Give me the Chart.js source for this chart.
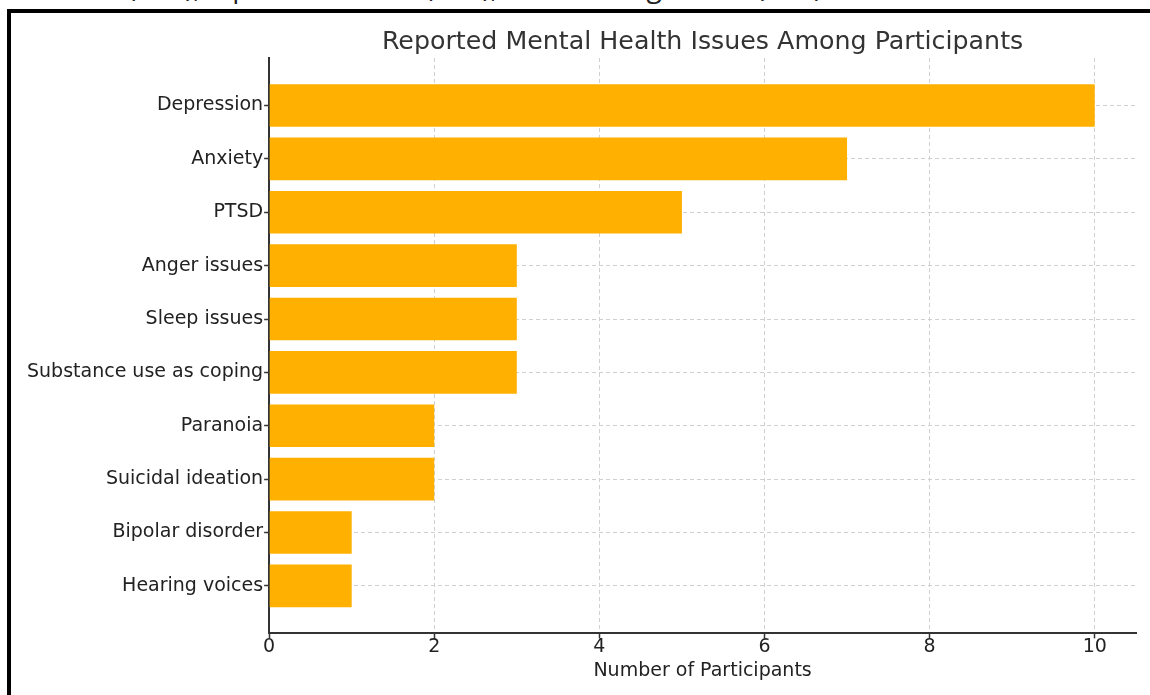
<!DOCTYPE html>
<html>
<head>
<meta charset="utf-8">
<script src="https://cdn.jsdelivr.net/npm/chart.js@4"></script>
<style>
  body { margin: 0; background: #fff; overflow: hidden; }
  #wrap { position: relative; width: 1150px; height: 695px; overflow: hidden; }
  #cut { position: absolute; left: 14px; top: -28px; font: 28px/28px "Open Sans", sans-serif; color: #222; white-space: nowrap; }
  #frame { position: absolute; left: 7px; top: 9px; width: 1200px; height: 800px; border-left: 4px solid #000; border-top: 4px solid #000; }
  canvas { position: absolute; left: 0; top: 0; }
</style>
</head>
<body>
<div id="wrap">
  <div id="cut">ideation (n=2), bipolar disorder (n=1), and hearing voices (n=1).</div>
  <div id="frame"></div>
  <canvas id="myChart" width="1150" height="695"></canvas>
</div>
<script>
// data
const issues = ['Depression', 'Anxiety', 'PTSD', 'Anger issues', 'Sleep issues',
  'Substance use as coping', 'Paranoia', 'Suicidal ideation', 'Bipolar disorder', 'Hearing voices'];
const participants = [10, 7, 5, 3, 3, 3, 2, 2, 1, 1];
const xTicks = [0, 2, 4, 6, 8, 10];

const chartTitle = 'Reported Mental Health Issues Among Participants';
const font = '"DejaVu Sans", sans-serif';

// title centred over the plot area, like matplotlib does
const titlePlugin = {
  id: 'plotTitle',
  afterDraw(chart) {
    const { ctx, chartArea } = chart;
    ctx.save();
    ctx.font = '25.3px ' + font;
    ctx.fillStyle = '#333';
    ctx.textAlign = 'center';
    ctx.textBaseline = 'alphabetic';
    ctx.fillText(chartTitle, (chartArea.left + chartArea.right) / 2, 49);
    ctx.restore();
  }
};

const ctx = document.getElementById('myChart').getContext('2d');
const chart = new Chart(ctx, {
  type: 'bar',
  data: {
    datasets: [{
      data: issues.map((name, i) => ({ x: participants[i], y: i })),
      backgroundColor: '#ffb000',
      borderWidth: 0,
      categoryPercentage: 1,
      barPercentage: 0.8
    }]
  },
  options: {
    indexAxis: 'y',
    responsive: false,
    animation: false,
    layout: { padding: { left: 26, right: 14, top: 58, bottom: 13 } },
    plugins: { legend: { display: false }, tooltip: { enabled: false } },
    scales: {
      x: {
        type: 'linear',
        min: 0,
        max: 10.5,
        afterBuildTicks: axis => { axis.ticks = xTicks.map(v => ({ value: v })); },
        ticks: { color: '#222', font: { family: font, size: 19 }, padding: -3 },
        grid: { color: '#d0d0d0', tickColor: '#333', tickLength: 5, tickWidth: 1.5 },
        border: { color: '#333', width: 2, dash: [4, 3] },
        title: { display: true, text: 'Number of Participants', color: '#222', font: { family: font, size: 19 }, padding: { top: 4, bottom: 0 } }
      },
      y: {
        type: 'linear',
        reverse: true,
        offset: false,
        min: -0.89,
        max: 9.89,
        afterBuildTicks: axis => { axis.ticks = issues.map((n, i) => ({ value: i })); },
        ticks: { color: '#222', font: { family: font, size: 19 }, padding: 1, callback: v => issues[v] },
        grid: { offset: false, color: '#d0d0d0', tickColor: '#333', tickLength: 5, tickWidth: 1.5 },
        border: { color: '#333', width: 2, dash: [4, 3] }
      }
    }
  },
  plugins: [titlePlugin]
});
</script>
</body>
</html>
